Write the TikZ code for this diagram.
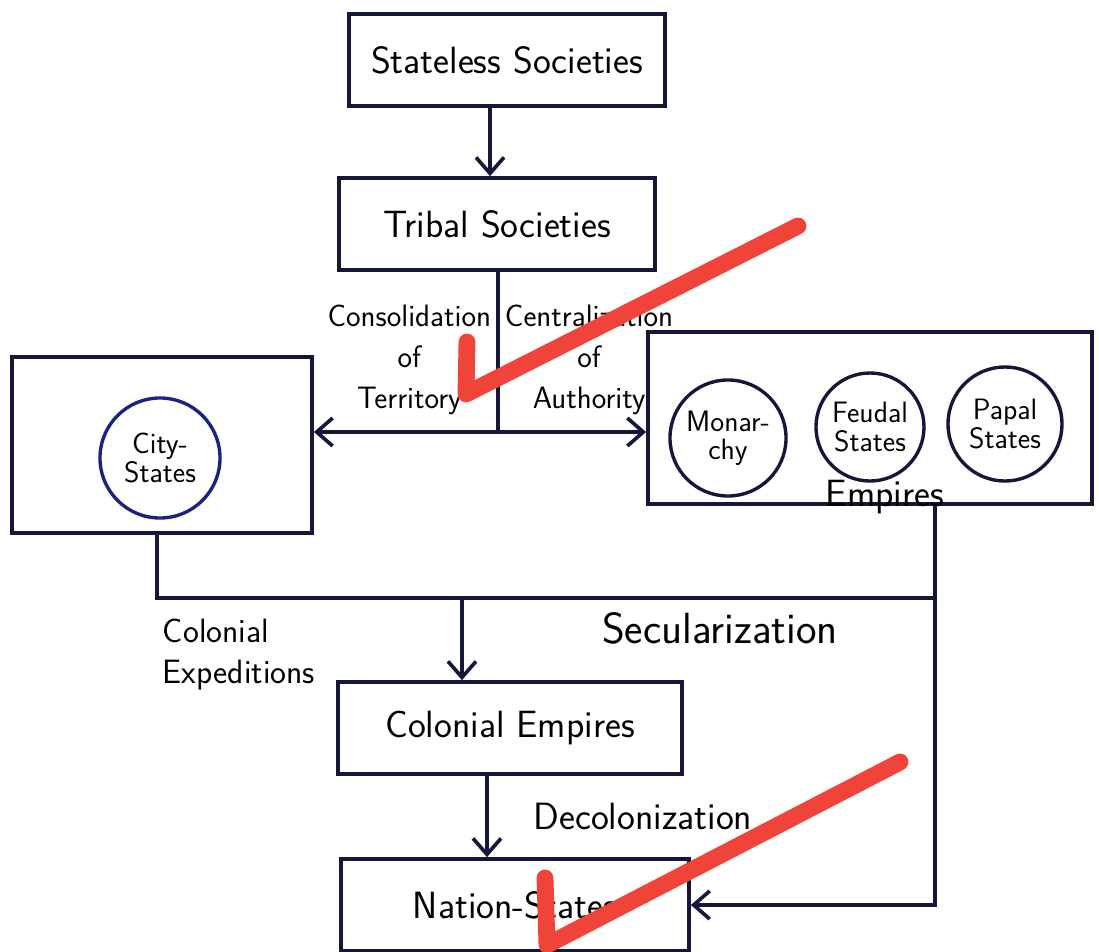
\documentclass[tikz,border=0pt]{standalone}
\usepackage{tikz}
\usetikzlibrary{shapes.geometric, arrows.meta}
\definecolor{ink}{HTML}{14163A}
\definecolor{pen}{HTML}{1A237E}
\definecolor{tick}{HTML}{F0443A}
\tikzstyle{stage} = [rectangle, draw=ink, line width=2.6pt, minimum height=2.3cm, text centered, font=\sffamily\fontsize{27}{30}\selectfont]
\tikzstyle{group} = [rectangle, draw=ink, line width=2.6pt]
\tikzstyle{state} = [circle, draw=ink, line width=2.4pt, minimum size=2.8cm, inner sep=1pt, align=center, font=\sffamily\fontsize{21}{20}\selectfont]
\tikzstyle{note} = [align=center, font=\sffamily\fontsize{22}{29}\selectfont]
\tikzstyle{arrow} = [draw=ink, line width=2.6pt, -{Straight Barb[length=4mm, width=7mm, line width=2.6pt]}]
\tikzstyle{line} = [draw=ink, line width=2.6pt]
\tikzstyle{tickmark} = [draw=tick, line width=12pt, line cap=round, line join=round]

\begin{document}
\begin{tikzpicture}[x=0.025cm, y=-0.025cm]
    \useasboundingbox (0,0) rectangle (1099,952);
    \node (stateless) [stage, minimum width=7.9cm] at (507,60) {Stateless Societies};
    \node (tribal) [stage, minimum width=7.9cm] at (497,224) {Tribal Societies};
    \node (city) [group, minimum width=7.5cm, minimum height=4.4cm] at (162,445) {};
    \node (citystates) [state, minimum size=3cm, draw=pen] at (160,458) {City-\\States};
    \node (empires) [group, minimum width=11.1cm, minimum height=4.3cm] at (870,418) {};
    \node (monarchy) [state, minimum size=2.9cm] at (728,438) {Monar-\\chy};
    \node (feudal) [state, minimum size=2.7cm] at (870,427) {Feudal\\States};
    \node (papal) [state, minimum size=2.85cm] at (1005,424) {Papal\\States};
    \node (emplabel) [note, inner sep=1pt, font=\sffamily\fontsize{27}{29}\selectfont] at (885,497) {Empires};
    \node (colonial) [stage, minimum width=8.6cm] at (510,728) {Colonial Empires};
    \node (nation) [stage, minimum width=8.7cm] at (515,905) {Nation-States};

    \coordinate (split) at (498,432);
    \coordinate (cityturn) at (157,598);
    \coordinate (empturn) at (935,598);
    \coordinate (drop) at (462,598);
    \coordinate (secturn) at (935,905);

    \draw [arrow] (stateless.south -| 490,0) -- (tribal.north -| 490,0);
    \draw [line] (tribal.south -| split) -- (split);
    \draw [arrow] (split) -- (city.east |- split);
    \draw [arrow] (split) -- (empires.west |- split);
    \node (consol) [note, anchor=east] at (496,360) {Consolidation\\of\\Territory};
    \node (central) [note, anchor=west] at (500,360) {Centralization\\of\\Authority};

    \draw [line] (city.south -| cityturn) -- (cityturn) -- (empturn);
    \draw [line] (empires.south -| empturn) -- (empturn);
    \draw [arrow] (drop) -- (colonial.north -| drop);
    \node (colexp) [note, align=left, anchor=north west, font=\sffamily\fontsize{24}{29}\selectfont] at (158,614) {Colonial\\Expeditions};
    \node (secul) [note, font=\sffamily\fontsize{31}{32}\selectfont] at (720,628) {Secularization};

    \draw [arrow] (colonial.south -| 487,0) -- node[note, anchor=west, xshift=1cm, font=\sffamily\fontsize{27}{29}\selectfont] {Decolonization} (nation.north -| 487,0);
    \draw [arrow] (empturn) -- (secturn) -- (nation.east);

    % ticks
    \draw [tickmark] (467,342) -- (466,394) -- (798,226);
    \draw [tickmark] (545,878) -- (547,945) -- (900,762);
\end{tikzpicture}
\end{document}
